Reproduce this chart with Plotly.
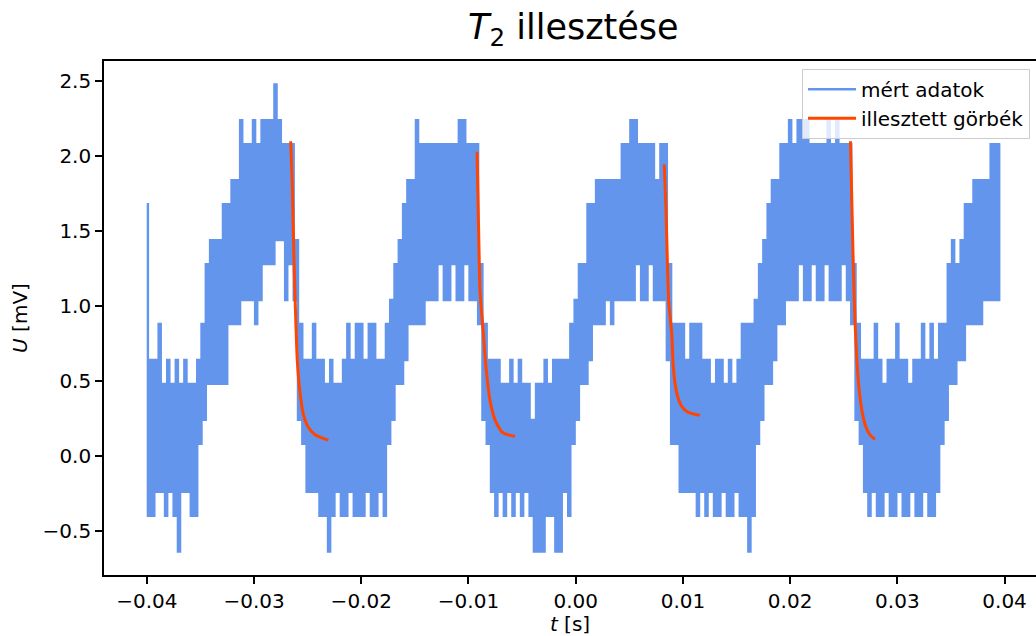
import numpy as np
import plotly.graph_objects as go

# ---- measured data (quantized scope samples, mV) ----
t_start = -0.04      # s
t_step = 0.0002      # s
u_meas = [
    1.68, -0.40, 0.64, -0.40, 0.64, -0.24, 0.88, -0.24, 0.48, -0.40, 0.64, -0.24, 0.48, -0.40, 0.64, -0.64, 0.48, -0.24, 0.64, -0.24,
    0.48, -0.40, 0.48, -0.40, 0.64, 0.08, 0.88, 0.24, 1.28, 0.48, 1.44, 0.48, 1.44, 0.48, 1.44, 0.48, 1.68, 0.48, 1.68, 0.88,
    1.84, 0.88, 1.84, 0.88, 2.24, 1.04, 2.08, 1.04, 2.08, 1.04, 2.24, 0.88, 2.08, 1.04, 2.24, 1.28, 2.24, 1.28, 2.24, 1.28,
    2.48, 1.44, 2.24, 1.44, 2.08, 1.04, 2.08, 1.28, 2.08, 1.04, 1.44, 0.24, 0.88, 0.08, 0.64, -0.24, 0.64, -0.24, 0.88, -0.24,
    0.64, -0.40, 0.64, -0.40, 0.48, -0.64, 0.64, -0.40, 0.48, -0.24, 0.48, -0.40, 0.64, -0.40, 0.88, -0.24, 0.64, -0.40, 0.88, -0.40,
    0.88, -0.40, 0.64, -0.24, 0.88, -0.40, 0.88, -0.40, 0.64, -0.24, 0.64, -0.40, 0.88, 0.08, 1.04, 0.24, 1.28, 0.48, 1.44, 0.48,
    1.68, 0.64, 1.84, 0.88, 1.84, 0.88, 2.24, 0.88, 2.08, 0.88, 2.08, 1.04, 2.08, 1.04, 2.08, 1.04, 2.08, 1.28, 2.08, 1.04,
    2.08, 1.04, 2.08, 1.28, 2.08, 1.04, 2.24, 1.04, 2.24, 1.28, 2.08, 1.04, 2.08, 1.04, 2.08, 0.88, 1.28, 0.24, 0.88, 0.08,
    0.64, -0.24, 0.64, -0.40, 0.64, -0.24, 0.48, -0.40, 0.48, -0.24, 0.64, -0.40, 0.48, -0.24, 0.64, -0.40, 0.48, -0.24, 0.48, -0.40,
    0.24, -0.64, 0.48, -0.64, 0.48, -0.64, 0.64, -0.40, 0.48, -0.40, 0.64, -0.64, 0.64, -0.64, 0.64, -0.24, 0.64, -0.40, 0.88, 0.08,
    1.04, 0.24, 1.28, 0.48, 1.28, 0.48, 1.68, 0.64, 1.68, 0.88, 1.84, 0.88, 1.84, 0.88, 1.84, 1.04, 1.84, 0.88, 1.84, 1.04,
    1.84, 1.04, 2.08, 1.04, 2.08, 1.04, 2.24, 1.04, 2.24, 1.28, 2.08, 1.04, 2.08, 1.04, 2.08, 1.28, 2.08, 1.04, 1.84, 1.04,
    2.08, 1.04, 2.08, 0.64, 1.28, 0.08, 0.88, 0.08, 0.88, -0.24, 0.88, -0.24, 0.64, -0.24, 0.88, -0.24, 0.88, -0.40, 0.88, -0.24,
    0.64, -0.40, 0.64, -0.24, 0.48, -0.40, 0.64, -0.40, 0.64, -0.24, 0.48, -0.40, 0.64, -0.40, 0.48, -0.24, 0.64, -0.40, 0.88, -0.40,
    0.88, -0.64, 0.88, -0.40, 1.04, 0.08, 1.28, 0.24, 1.44, 0.48, 1.68, 0.48, 1.84, 0.64, 1.84, 0.88, 2.08, 0.88, 2.08, 1.04,
    2.24, 1.04, 2.08, 1.04, 2.24, 1.28, 2.24, 1.04, 2.24, 1.04, 2.08, 1.28, 2.08, 1.04, 2.08, 1.04, 2.08, 1.28, 2.24, 1.04,
    2.08, 1.04, 2.24, 1.04, 2.08, 1.28, 2.08, 1.04, 2.08, 0.88, 1.28, 0.24, 0.88, 0.08, 0.64, -0.24, 0.64, -0.40, 0.64, -0.24,
    0.88, -0.40, 0.64, -0.40, 0.48, -0.24, 0.64, -0.40, 0.64, -0.40, 0.88, -0.24, 0.64, -0.40, 0.64, -0.40, 0.48, -0.24, 0.64, -0.40,
    0.64, -0.40, 0.88, -0.24, 0.64, -0.40, 0.88, -0.40, 0.64, -0.24, 0.88, 0.08, 0.88, 0.24, 1.28, 0.48, 1.44, 0.48, 1.28, 0.64,
    1.44, 0.64, 1.68, 0.88, 1.68, 0.88, 1.84, 0.88, 1.84, 0.88, 1.84, 1.04, 1.84, 1.04, 2.08, 1.04, 2.08, 1.04, 2.08,
]
t_meas = np.round(t_start + t_step * np.arange(len(u_meas)), 6)

# ---- fitted T2 decay curves ----
fit1_t = [-0.02658, -0.02643, -0.02634, -0.02625, -0.02611, -0.02597, -0.02571, -0.02541, -0.02494, -0.02431, -0.02369, -0.02307]
fit1_u = [2.10, 1.80, 1.51, 1.24, 0.91, 0.64, 0.42, 0.28, 0.19, 0.14, 0.12, 0.105]
fit2_t = [-0.009205, -0.009112, -0.009019, -0.008926, -0.008767, -0.008618, -0.008366, -0.007993, -0.007527, -0.006902, -0.006286, -0.005662]
fit2_u = [2.03, 1.72, 1.38, 1.10, 0.95, 0.82, 0.59, 0.37, 0.24, 0.16, 0.14, 0.13]
fit3_t = [0.008263, 0.008422, 0.008543, 0.008683, 0.008954, 0.009103, 0.009420, 0.009886, 0.010502, 0.011593]
fit3_u = [1.945, 1.64, 1.31, 1.02, 0.82, 0.59, 0.42, 0.33, 0.29, 0.27]
fit4_t = [0.025630, 0.025723, 0.025816, 0.025910, 0.026049, 0.026236, 0.026469, 0.026749, 0.027075, 0.027448, 0.027915]
fit4_u = [2.10, 1.80, 1.50, 1.22, 0.90, 0.62, 0.42, 0.28, 0.19, 0.14, 0.11]

x_ticks = [-0.04, -0.03, -0.02, -0.01, 0.00, 0.01, 0.02, 0.03, 0.04]
y_ticks = [-0.5, 0.0, 0.5, 1.0, 1.5, 2.0, 2.5]

BLUE = "#6495ED"
RED = "#FF4500"
FONT = "DejaVu Sans"

fig = go.Figure()
fig.add_trace(go.Scatter(x=t_meas, y=u_meas, mode="lines", name="mért adatok",
                         line=dict(color=BLUE, width=2.4, shape="hvh")))
fits = [(fit1_t, fit1_u), (fit2_t, fit2_u), (fit3_t, fit3_u), (fit4_t, fit4_u)]
for k, (ft, fu) in enumerate(fits):
    fig.add_trace(go.Scatter(x=ft, y=fu, mode="lines", name="illesztett görbék",
                             showlegend=(k == 0), legendgroup="fit",
                             line=dict(color=RED, width=3, shape="spline", smoothing=0.6)))

axis_common = dict(showgrid=False, zeroline=False, showline=True, linecolor="black",
                   linewidth=1.6, ticks="outside", ticklen=7, tickwidth=1.6,
                   tickcolor="black", tickfont=dict(family=FONT, size=20, color="black"))

fig.update_layout(
    width=1036, height=636,
    margin=dict(l=104, r=0, t=61, b=61),
    paper_bgcolor="white", plot_bgcolor="white",
    font=dict(family=FONT, color="black"),
    title=dict(text="<i>T</i><sub>2</sub> illesztése", x=0.5534, xanchor="center",
               y=0.958, yanchor="middle", font=dict(family=FONT, size=35, color="black")),
    xaxis=dict(range=[-0.043994, 0.042931], tickvals=x_ticks, tickformat=".2f", mirror=True,
               title=dict(text="<i>t</i> [s]", font=dict(family=FONT, size=20), standoff=6),
               **axis_common),
    yaxis=dict(range=[-0.796, 2.636], tickvals=y_ticks, tickformat=".1f", mirror=False,
               title=dict(text="<i>U</i> [mV]", font=dict(family=FONT, size=20), standoff=10),
               **axis_common),
    legend=dict(x=0.9936, xanchor="right", y=0.985, yanchor="top", itemwidth=48,
                bgcolor="rgba(255,255,255,0.8)", bordercolor="#cccccc", borderwidth=1,
                font=dict(family=FONT, size=20, color="black"), tracegroupgap=0),
    showlegend=True,
)

fig.write_html("out.html")
